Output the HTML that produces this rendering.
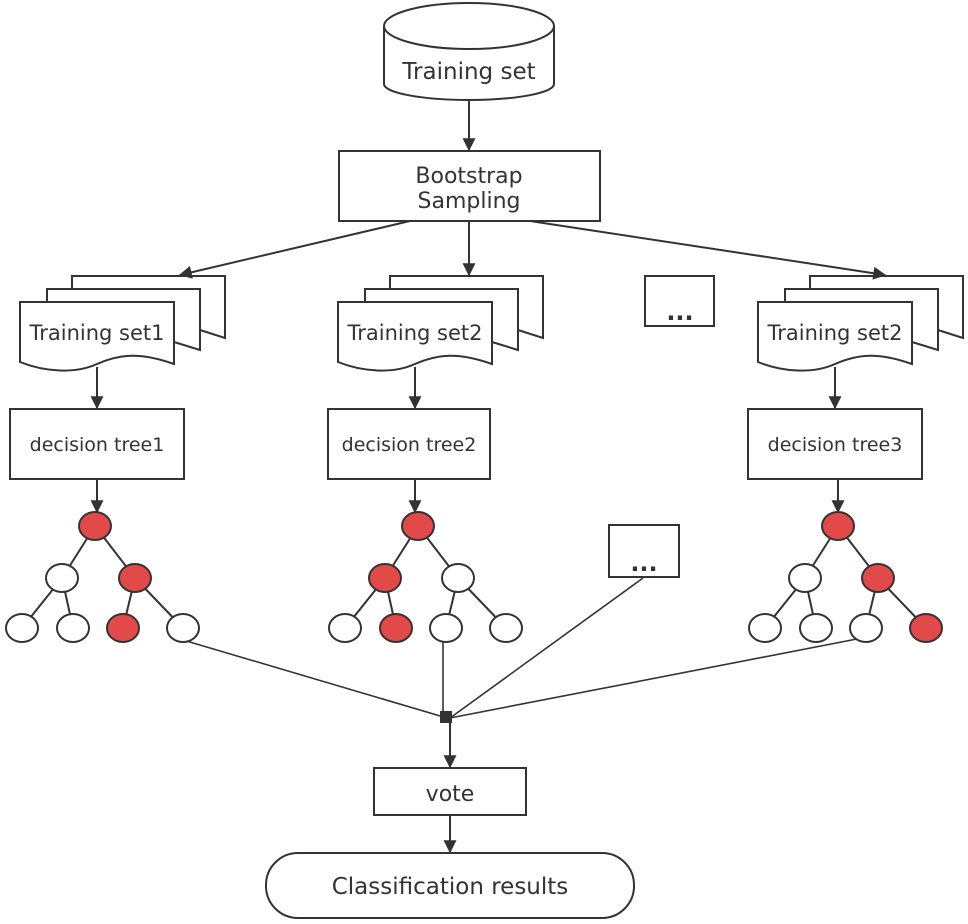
<!DOCTYPE html>
<html><head><style>body{margin:0;background:#fff}svg{display:block}text{font-family:"DejaVu Sans","Liberation Sans",sans-serif;fill:#333}</style></head>
<body>
<svg width="968" height="924" viewBox="0 0 968 924" xmlns="http://www.w3.org/2000/svg">
<defs><marker id="a" viewBox="0 0 10 10" refX="9" refY="5" markerWidth="14" markerHeight="13" markerUnits="userSpaceOnUse" orient="auto"><path d="M0,0 L10,5 L0,10 z" fill="#333"/></marker></defs>
<g stroke="#333" stroke-width="2" fill="#fff">
<path d="M384,26 V84 A85,16 0 0 0 554,84 V26"/>
<ellipse cx="469" cy="26" rx="85" ry="23"/>
<rect x="339" y="151" width="261" height="70"/>
<rect x="645" y="276" width="69" height="50"/>
<rect x="609" y="525" width="70" height="52"/>
<rect x="10" y="409" width="174" height="70"/>
<rect x="328" y="409" width="162" height="70"/>
<rect x="748" y="409" width="174" height="70"/>
<rect x="374" y="768" width="152" height="47"/>
<rect x="266" y="853" width="368" height="65" rx="32"/>
</g>
<g stroke="#333" stroke-width="2" fill="#fff">
<g id="s1">
<path d="M72,289 V276 H225 V338 L200,330"/>
<path d="M47,302 V289 H200 V350 L174,342"/>
<path d="M20,302 H174 V364 C140,352 120,354 97,364 C75,374 45,372 20,362 Z"/>
</g>
<use href="#s1" x="318"/>
<use href="#s1" x="738"/>
</g>
<g font-size="21" text-anchor="middle">
<text x="469" y="79" font-size="23">Training set</text>
<text x="469" y="183" font-size="22">Bootstrap</text>
<text x="469" y="208" font-size="22">Sampling</text>
<text x="97" y="340">Training set1</text>
<text x="415" y="340">Training set2</text>
<text x="835" y="340">Training set2</text>
<text x="97" y="451" font-size="19">decision tree1</text>
<text x="409" y="451" font-size="19">decision tree2</text>
<text x="835" y="451" font-size="19">decision tree3</text>
<text x="450" y="801" font-size="22">vote</text>
<text x="450" y="894" font-size="23">Classification results</text>
<text x="680" y="320" font-size="24" font-weight="bold">...</text>
<text x="644" y="571" font-size="24" font-weight="bold">...</text>
</g>
<g stroke="#333" stroke-width="2" fill="none" marker-end="url(#a)">
<line x1="469" y1="100" x2="469" y2="150"/>
<line x1="410" y1="221" x2="180" y2="275"/>
<line x1="469" y1="221" x2="469" y2="275"/>
<line x1="530" y1="221" x2="885" y2="275"/>
<line x1="97" y1="367" x2="97" y2="408"/>
<line x1="415" y1="367" x2="415" y2="408"/>
<line x1="835" y1="367" x2="835" y2="408"/>
<line x1="97" y1="479" x2="97" y2="512"/>
<line x1="415" y1="479" x2="415" y2="512"/>
<line x1="838" y1="479" x2="838" y2="512"/>
<line x1="450" y1="718" x2="450" y2="767"/>
<line x1="450" y1="815" x2="450" y2="852"/>
</g>
<g stroke="#333" stroke-width="1.6" fill="none">
<line x1="183" y1="640" x2="447" y2="718"/>
<line x1="443" y1="640" x2="443" y2="718"/>
<line x1="643" y1="578" x2="450" y2="718"/>
<line x1="862" y1="638" x2="450" y2="718"/>
</g>
<rect x="440" y="711" width="12" height="12" fill="#333"/>
<g stroke="#333" stroke-width="2">
<g id="t">
<line x1="95" y1="526" x2="62" y2="578"/><line x1="95" y1="526" x2="135" y2="578"/>
<line x1="62" y1="578" x2="22" y2="628"/><line x1="62" y1="578" x2="73" y2="628"/>
<line x1="135" y1="578" x2="123" y2="628"/><line x1="135" y1="578" x2="183" y2="628"/>
</g>
<use href="#t" x="323"/><use href="#t" x="743"/>
</g>
<g stroke="#333" stroke-width="2">
<ellipse cx="95" cy="526" rx="16" ry="14" fill="#e24a4a"/>
<ellipse cx="62" cy="578" rx="16" ry="14" fill="#fff"/>
<ellipse cx="135" cy="578" rx="16" ry="14" fill="#e24a4a"/>
<ellipse cx="22" cy="628" rx="16" ry="14" fill="#fff"/>
<ellipse cx="73" cy="628" rx="16" ry="14" fill="#fff"/>
<ellipse cx="123" cy="628" rx="16" ry="14" fill="#e24a4a"/>
<ellipse cx="183" cy="628" rx="16" ry="14" fill="#fff"/>
<ellipse cx="418" cy="526" rx="16" ry="14" fill="#e24a4a"/>
<ellipse cx="385" cy="578" rx="16" ry="14" fill="#e24a4a"/>
<ellipse cx="458" cy="578" rx="16" ry="14" fill="#fff"/>
<ellipse cx="345" cy="628" rx="16" ry="14" fill="#fff"/>
<ellipse cx="396" cy="628" rx="16" ry="14" fill="#e24a4a"/>
<ellipse cx="446" cy="628" rx="16" ry="14" fill="#fff"/>
<ellipse cx="506" cy="628" rx="16" ry="14" fill="#fff"/>
<ellipse cx="838" cy="526" rx="16" ry="14" fill="#e24a4a"/>
<ellipse cx="805" cy="578" rx="16" ry="14" fill="#fff"/>
<ellipse cx="878" cy="578" rx="16" ry="14" fill="#e24a4a"/>
<ellipse cx="765" cy="628" rx="16" ry="14" fill="#fff"/>
<ellipse cx="816" cy="628" rx="16" ry="14" fill="#fff"/>
<ellipse cx="866" cy="628" rx="16" ry="14" fill="#fff"/>
<ellipse cx="926" cy="628" rx="16" ry="14" fill="#e24a4a"/>
</g>
</svg>
</body></html>
